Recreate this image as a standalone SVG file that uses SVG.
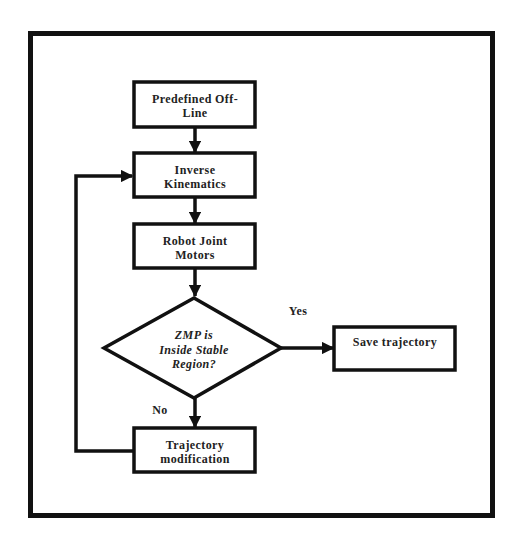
<svg xmlns="http://www.w3.org/2000/svg" width="519" height="538" viewBox="0 0 519 538">
<style>
.box{fill:#fff;stroke:#111;stroke-width:3.5}
.ln{fill:none;stroke:#111;stroke-width:3.5}
.t{font-family:"Liberation Serif","Times New Roman",serif;font-weight:bold;font-size:12px;fill:#222;text-anchor:middle;letter-spacing:0.4px}
.ti{font-style:italic}
</style>
<defs>
<marker id="ah" viewBox="0 0 10 10" refX="9" refY="5" markerWidth="3.6" markerHeight="3.6" orient="auto" markerUnits="strokeWidth">
<path d="M0,0 L10,5 L0,10 Z" fill="#111"/>
</marker>
</defs>
<rect x="0" y="0" width="519" height="538" fill="#fff"/>
<rect x="30.5" y="33.5" width="462" height="482" fill="#fff" stroke="#111" stroke-width="5"/>
<g id="connectors">
<line class="ln" x1="195" y1="127" x2="195" y2="152" marker-end="url(#ah)"/>
<line class="ln" x1="195" y1="197" x2="195" y2="223" marker-end="url(#ah)"/>
<line class="ln" x1="195" y1="268" x2="195" y2="296" marker-end="url(#ah)"/>
<line class="ln" x1="281" y1="348" x2="333" y2="348" marker-end="url(#ah)"/>
<line class="ln" x1="195" y1="398" x2="195" y2="427" marker-end="url(#ah)"/>
<polyline class="ln" points="134,451 76,451 76,176 132,176" marker-end="url(#ah)"/>
<text class="t" x="298" y="315">Yes</text>
<text class="t" x="160" y="414">No</text>
</g>
<g id="n1">
<rect class="box" x="134" y="82" width="121" height="45"/>
<text class="t" x="195" y="103">Predefined Off-</text>
<text class="t" x="195" y="117">Line</text>
</g>
<g id="n2">
<rect class="box" x="134" y="153" width="121" height="44"/>
<text class="t" x="195" y="174">Inverse</text>
<text class="t" x="195" y="188">Kinematics</text>
</g>
<g id="n3">
<rect class="box" x="134" y="224" width="121" height="44"/>
<text class="t" x="195" y="245">Robot Joint</text>
<text class="t" x="195" y="259">Motors</text>
</g>
<g id="n4">
<polygon class="box" points="194,298 281,348 194,398 104,348"/>
<text class="t ti" x="194" y="339">ZMP is</text>
<text class="t ti" x="194" y="354">Inside Stable</text>
<text class="t ti" x="194" y="368">Region?</text>
</g>
<g id="n5">
<rect class="box" x="334" y="327" width="121" height="43"/>
<text class="t" x="395" y="346">Save trajectory</text>
</g>
<g id="n6">
<rect class="box" x="134" y="428" width="121" height="44"/>
<text class="t" x="195" y="449">Trajectory</text>
<text class="t" x="195" y="463">modification</text>
</g>
</svg>
